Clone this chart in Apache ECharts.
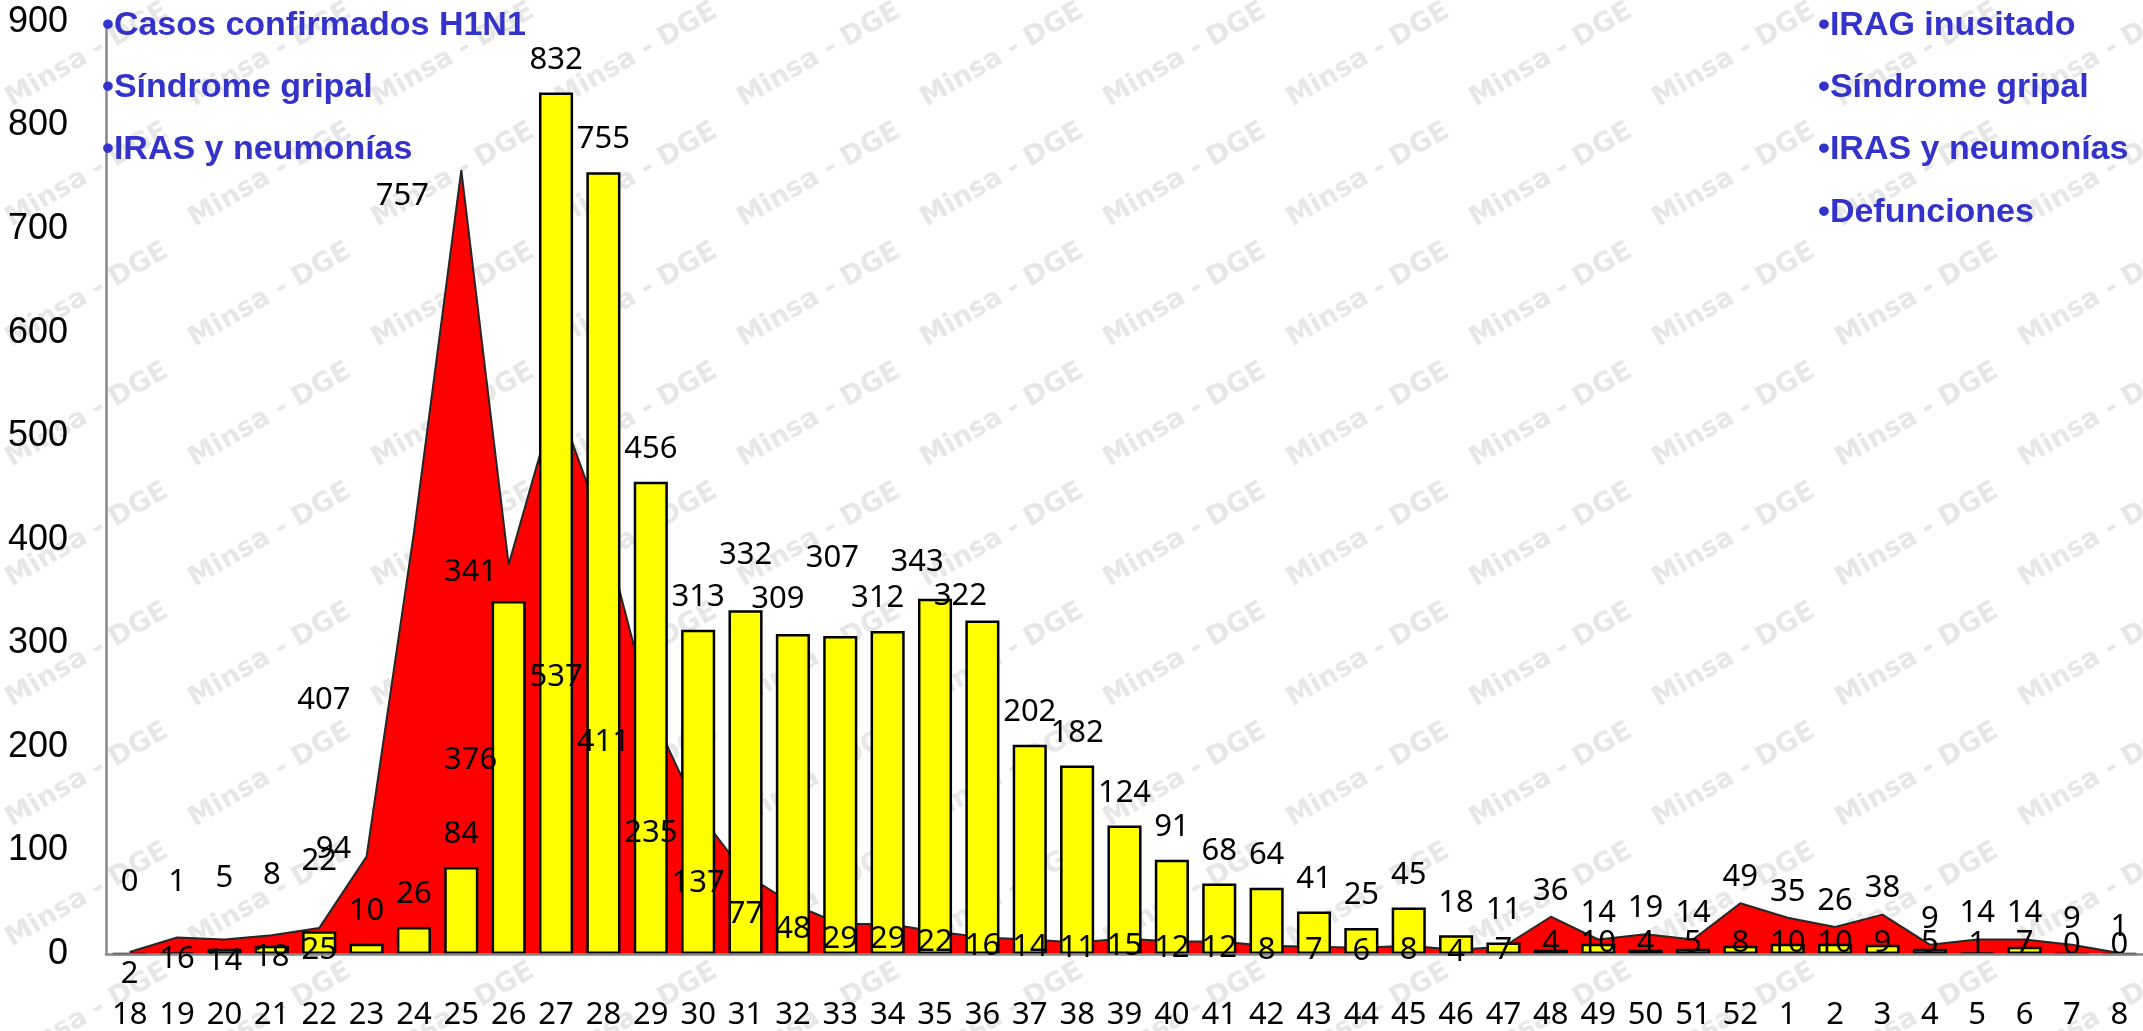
<!DOCTYPE html>
<html>
<head>
<meta charset="utf-8">
<title>Casos por semana epidemiológica</title>
<script src="https://cdn.jsdelivr.net/npm/echarts@6/dist/echarts.min.js"></script>
<style>
  html, body { margin: 0; padding: 0; background: #fff; }
  #chart { width: 2143px; height: 1031px; }
</style>
</head>
<body>
<div id="chart"></div>
<script>
// semanas epidemiologicas (2009 -> 2010)
const semanas = ['18', '19', '20', '21', '22', '23', '24', '25', '26', '27', '28', '29', '30', '31', '32', '33', '34', '35',
  '36', '37', '38', '39', '40', '41', '42', '43', '44', '45', '46', '47', '48', '49', '50', '51', '52',
  '1', '2', '3', '4', '5', '6', '7', '8']

// barras amarillas
const casosBarras = [0, 1, 5, 8, 22, 10, 26, 84, 341, 832, 755, 456, 313, 332, 309, 307, 312, 343,
  322, 202, 182, 124, 91, 68, 64, 41, 25, 45, 18, 11, 4, 10, 4, 5, 8,
  10, 10, 9, 5, 1, 7, 0, 0]

// area roja
const casosArea = [2, 16, 14, 18, 25, 94, 407, 757, 376, 537, 411, 235, 137, 77, 48, 29, 29, 22,
  16, 14, 11, 15, 12, 12, 8, 7, 6, 8, 4, 7, 36, 14, 19, 14, 49,
  35, 26, 38, 9, 14, 14, 9, 1]

const yTicks = [0, 100, 200, 300, 400, 500, 600, 700, 800, 900]

const notasIzq = ['\u2022Casos confirmados H1N1', '\u2022Síndrome gripal', '\u2022IRAS y neumonías']
const notasDer = ['\u2022IRAG inusitado', '\u2022Síndrome gripal', '\u2022IRAS y neumonías', '\u2022Defunciones']

const GRID = { left: 106, right: 0, top: 22, bottom: 74 }
const pxPorUnidad = (1031 - GRID.top - GRID.bottom) / (yTicks[yTicks.length - 1] - yTicks[0])
const fuente = '"Noto Sans", "Open Sans", sans-serif'

// etiquetas movidas a mano en el original: [dx, dy] o [dx, distancia]
const ajustesArea = { 5: [-33, -7], 6: [-90, 168], 7: [-59, 26], 8: [-38, 0] }
const ajustesBarras = { 8: [-38, 13], 13: [0, 40], 14: [-15, 19], 15: [-8, 62], 16: [-10, 17], 17: [-18, 21], 18: [-22, 9] }

function etiquetaBarra(i) {
  if (ajustesBarras[i]) {
    const [dx, d] = ajustesBarras[i]
    return { position: 'top', distance: d, offset: [dx, 0] }
  }
  if (i < 5) return { position: 'top', distance: 55 }
  if (i < 30) return { position: 'top', distance: 17 }
  return { position: 'insideBottom', distance: 0, offset: [0, 5] }
}

function etiquetaArea(i, v) {
  if (i < 5) return { position: 'bottom', distance: 6 }
  if (ajustesArea[i]) {
    const [dx, dy] = ajustesArea[i]
    return { position: 'inside', offset: [dx, i >= 8 ? v * pxPorUnidad / 2 + dy : dy] }
  }
  if (i < 30) return { position: 'inside', offset: [0, v * pxPorUnidad / 2] }
  return { position: 'top', distance: 10 }
}

// marca de agua
const marcas = []
for (let fx = -1; fx < 13; fx++) {
  for (let fy = -1; fy < 10; fy++) {
    marcas.push({
      type: 'text',
      x: 87 + 183 * fx,
      y: 55 + 120 * fy,
      rotation: Math.PI / 6,
      z: 0,
      silent: true,
      style: {
        text: 'Minsa - DGE',
        fill: '#e7e7e7',
        font: 'bold 27px "DejaVu Sans", sans-serif',
        textAlign: 'center',
        textVerticalAlign: 'middle',
        align: 'center',
        verticalAlign: 'middle'
      }
    })
  }
}

const ysNotas = [26, 88, 150, 213]
const notas = []
notasIzq.forEach((t, i) => notas.push({ x: 102, y: ysNotas[i], t }))
notasDer.forEach((t, i) => notas.push({ x: 1818, y: ysNotas[i], t }))
const textos = notas.map(n => ({
  type: 'text',
  x: n.x,
  y: n.y,
  z: 100,
  style: {
    text: n.t,
    fill: '#3333CC',
    font: 'bold 34px "Liberation Sans", Arial, sans-serif',
    textAlign: 'left',
    textVerticalAlign: 'middle',
    align: 'left',
    verticalAlign: 'middle'
  }
}))

const chart = echarts.init(document.getElementById('chart'))

chart.setOption({
  backgroundColor: '#ffffff',
  animation: false,
  grid: GRID,
  graphic: { elements: marcas.concat(textos) },
  xAxis: {
    type: 'category',
    data: semanas,
    boundaryGap: true,
    z: 6,
    axisLine: { show: true, lineStyle: { color: '#868686', width: 2.5 } },
    axisTick: { show: false },
    axisLabel: { interval: 0, margin: 46, color: '#000', fontSize: 31, fontFamily: fuente }
  },
  yAxis: {
    type: 'value',
    min: yTicks[0],
    max: yTicks[yTicks.length - 1],
    interval: yTicks[1] - yTicks[0],
    z: 6,
    axisLine: { show: true, lineStyle: { color: '#868686', width: 2.5 } },
    axisTick: { show: false },
    splitLine: { show: false },
    axisLabel: { margin: 38, color: '#000', fontSize: 36, fontFamily: '"Liberation Sans", Arial, sans-serif' }
  },
  series: [
    {
      name: 'area',
      type: 'line',
      z: 2,
      data: casosArea,
      symbol: 'none',
      lineStyle: { color: '#262626', width: 2 },
      areaStyle: { color: '#FF0000', opacity: 1 },
      silent: true
    },
    {
      name: 'barras',
      type: 'bar',
      z: 4,
      barWidth: '72%',
      data: casosBarras.map((v, i) => ({ value: v, label: etiquetaBarra(i) })),
      itemStyle: { color: '#FFFF00', borderColor: '#000000', borderWidth: 2.5 },
      label: { show: true, color: '#000', fontSize: 31, fontFamily: fuente }
    },
    {
      name: 'area etiquetas',
      type: 'line',
      z: 10,
      data: casosArea.map((v, i) => ({ value: v, label: etiquetaArea(i, v) })),
      symbol: 'circle',
      symbolSize: 1,
      showSymbol: true,
      itemStyle: { color: 'rgba(0,0,0,0)' },
      lineStyle: { opacity: 0 },
      label: { show: true, color: '#000', fontSize: 31, fontFamily: fuente },
      silent: true
    }
  ]
})
</script>
</body>
</html>
